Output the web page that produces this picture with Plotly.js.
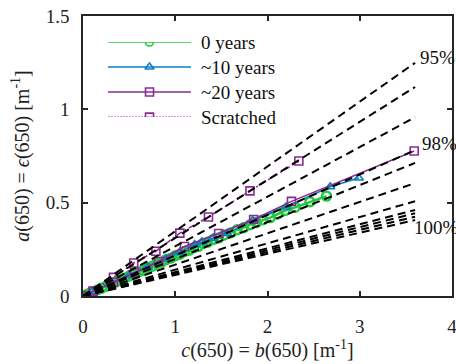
<!DOCTYPE html>
<html>
<head>
<meta charset="utf-8">
<script src="https://cdn.plot.ly/plotly-3.0.1.min.js"></script>
<style>
html,body{margin:0;padding:0;background:#fff;}
#chart svg text{font-family:"Liberation Serif", serif !important;}
</style>
</head>
<body>
<div id="chart"></div>
<script>
// ---- data ----
const seriesNames = ["0 years", "~10 years", "~20 years", "Scratched"];

const zeroYearsC = [0, 0.04, 0.08, 0.12, 0.16, 0.2, 0.25, 0.3, 0.35, 0.4, 0.45, 0.5, 0.55, 0.6, 0.65, 0.7, 0.75, 0.8, 0.85, 0.9, 0.95, 1.0, 1.05, 1.1, 1.15, 1.2, 1.25, 1.3, 1.35, 1.41, 1.47, 1.53, 1.6, 1.67, 1.74, 1.81, 1.88, 1.95, 2.03, 2.11, 2.19, 2.3, 2.46, 2.64];
const zeroYearsA = [0, 0.008, 0.017, 0.025, 0.033, 0.042, 0.052, 0.064, 0.074, 0.086, 0.095, 0.107, 0.117, 0.129, 0.138, 0.151, 0.159, 0.173, 0.181, 0.194, 0.203, 0.216, 0.224, 0.238, 0.245, 0.258, 0.266, 0.281, 0.288, 0.303, 0.311, 0.327, 0.338, 0.355, 0.366, 0.382, 0.394, 0.408, 0.42, 0.439, 0.458, 0.475, 0.505, 0.535];

const tenYearsC = [0, 0.1, 0.3, 0.5, 0.7, 0.9, 1.05, 1.21, 1.29, 1.41, 1.56, 1.84, 2.2, 2.68, 2.99];
const tenYearsA = [0, 0.022, 0.066, 0.11, 0.155, 0.2, 0.235, 0.275, 0.29, 0.31, 0.335, 0.405, 0.477, 0.585, 0.632];

const twentyYearsC = [0, 0.11, 0.33, 0.56, 0.82, 1.1, 1.47, 1.85, 2.26, 3.59];
const twentyYearsA = [0, 0.024, 0.074, 0.125, 0.185, 0.265, 0.335, 0.41, 0.507, 0.777];

const scratchedC = [0, 0.11, 0.33, 0.55, 0.79, 1.05, 1.36, 1.81, 2.34];
const scratchedA = [0, 0.027, 0.1, 0.177, 0.24, 0.337, 0.423, 0.563, 0.723];

// reference (dashed) lines through the origin: slope a/c
const refSlopes = [0.347, 0.311, 0.266, 0.217, 0.198, 0.168, 0.141, 0.128, 0.123, 0.118, 0.113];
const refEndC = 3.6;
const refLabels = ["95%", "98%", "100%"];
const refLabelLine = [0, 3, 7];

const xTicks = [0, 1, 2, 3, 4];
const yTicks = [0, 0.5, 1, 1.5];
const yTickText = ["0", "0.5", "1", "1.5"];

// ---- styles ----
const GREEN = "#22c83e", BLUE = "#0a7fc4", PURPLE = "#8a2b93", SCR = "#a233a8";
const AXC = "#262626";
const FONT = "Liberation Serif";

const traces = [];
traces.push({x: zeroYearsC, y: zeroYearsA, type: "scatter", mode: "lines+markers", name: seriesNames[0],
  line: {color: GREEN, width: 2.5}, marker: {symbol: "circle-open", size: 9, color: GREEN, line: {width: 2.4, color: GREEN}}, showlegend: false});
traces.push({x: tenYearsC, y: tenYearsA, type: "scatter", mode: "lines+markers", name: seriesNames[1],
  line: {color: BLUE, width: 1.6}, marker: {symbol: "triangle-up-open", size: 8, color: BLUE, line: {width: 1.6, color: BLUE}}, showlegend: false});
traces.push({x: twentyYearsC, y: twentyYearsA, type: "scatter", mode: "lines+markers", name: seriesNames[2],
  line: {color: PURPLE, width: 1.6}, marker: {symbol: "square-open", size: 8, color: PURPLE, line: {width: 1.6, color: PURPLE}}, showlegend: false});
traces.push({x: scratchedC, y: scratchedA, type: "scatter", mode: "lines+markers", name: seriesNames[3],
  line: {color: PURPLE, width: 1.6, dash: "6px,3px,2px,3px"}, marker: {symbol: "square-open", size: 8, color: PURPLE, line: {width: 1.6, color: PURPLE}}, showlegend: false});

refSlopes.forEach(function (s) {
  traces.push({x: [0, refEndC], y: [0, s * refEndC], type: "scatter", mode: "lines",
    line: {color: "#000", width: 2, dash: "8px,5px"}, hoverinfo: "skip", showlegend: false});
});

// custom legend drawn on a hidden helper axis pair
const legendLine = [
  {color: GREEN, dash: "solid", sym: "circle-open"},
  {color: BLUE, dash: "solid", sym: "triangle-up-open"},
  {color: PURPLE, dash: "solid", sym: "square-open"},
  {color: SCR, dash: "2px,1px", sym: "square-open"}
];
seriesNames.forEach(function (n, i) {
  traces.push({x: [0, 0.5, 1], y: [i, i, i], xaxis: "x2", yaxis: "y2", type: "scatter", mode: "lines+markers",
    line: {color: legendLine[i].color, width: i === 3 ? 1.2 : 1.6, dash: legendLine[i].dash},
    marker: {symbol: legendLine[i].sym, size: 8, color: i === 3 ? PURPLE : legendLine[i].color, opacity: [0, 1, 0],
      line: {width: 1.6, color: i === 3 ? PURPLE : legendLine[i].color}},
    hoverinfo: "skip", showlegend: false});
});

const annotations = [];
seriesNames.forEach(function (n, i) {
  annotations.push({xref: "x2", yref: "y2", x: 1, y: i, text: n, showarrow: false, xanchor: "left", yanchor: "middle",
    xshift: 8, font: {family: FONT, size: 19, color: "#111"}});
});
const labelShift = [[3, 5], [5, 7], [-3, -18]];
refLabels.forEach(function (t, k) {
  const s = refSlopes[refLabelLine[k]];
  annotations.push({xref: "x", yref: "y", x: refEndC, y: s * refEndC, text: t, showarrow: false,
    xanchor: "left", yanchor: "middle", xshift: labelShift[k][0], yshift: labelShift[k][1],
    font: {family: FONT, size: 19, color: "#111"}});
});

const layout = {
  width: 456, height: 364,
  margin: {l: 83, r: 4, t: 16, b: 68, pad: 0},
  paper_bgcolor: "#fff", plot_bgcolor: "rgba(0,0,0,0)",
  font: {family: FONT, size: 19, color: AXC},
  showlegend: false,
  xaxis: {range: [0, 4], tickvals: xTicks, ticktext: xTicks.map(String), ticks: "inside", ticklen: 5, tickwidth: 1.5,
    tickcolor: AXC, showline: true, linewidth: 1.5, linecolor: AXC, mirror: "ticks", showgrid: false, zeroline: false,
    ticklabelstandoff: 12, ticklabeloverflow: "allow", tickfont: {family: FONT, size: 19, color: "#222"},
    title: {text: "<i>c</i>(650) = <i>b</i>(650) [m<sup>-1</sup>]", font: {family: FONT, size: 20, color: "#222"}, standoff: 6}},
  yaxis: {range: [0, 1.5], tickvals: yTicks, ticktext: yTickText, ticks: "inside", ticklen: 5, tickwidth: 1.5,
    tickcolor: AXC, showline: true, linewidth: 1.5, linecolor: AXC, mirror: "ticks", showgrid: false, zeroline: false,
    ticklabelstandoff: 8, ticklabeloverflow: "allow", tickfont: {family: FONT, size: 19, color: "#222"},
    title: {text: "<i>a</i>(650) = <i>ϵ</i>(650) [m<sup>-1</sup>]", font: {family: FONT, size: 20, color: "#222"}, standoff: 11}},
  xaxis2: {domain: [0.0678, 0.2927], range: [0, 1], anchor: "y2", visible: false, fixedrange: true},
  yaxis2: {domain: [0.639, 0.907], range: [3, 0], anchor: "x2", visible: false, fixedrange: true},
  annotations: annotations
};

Plotly.newPlot("chart", traces, layout, {displayModeBar: false});
</script>
</body>
</html>
